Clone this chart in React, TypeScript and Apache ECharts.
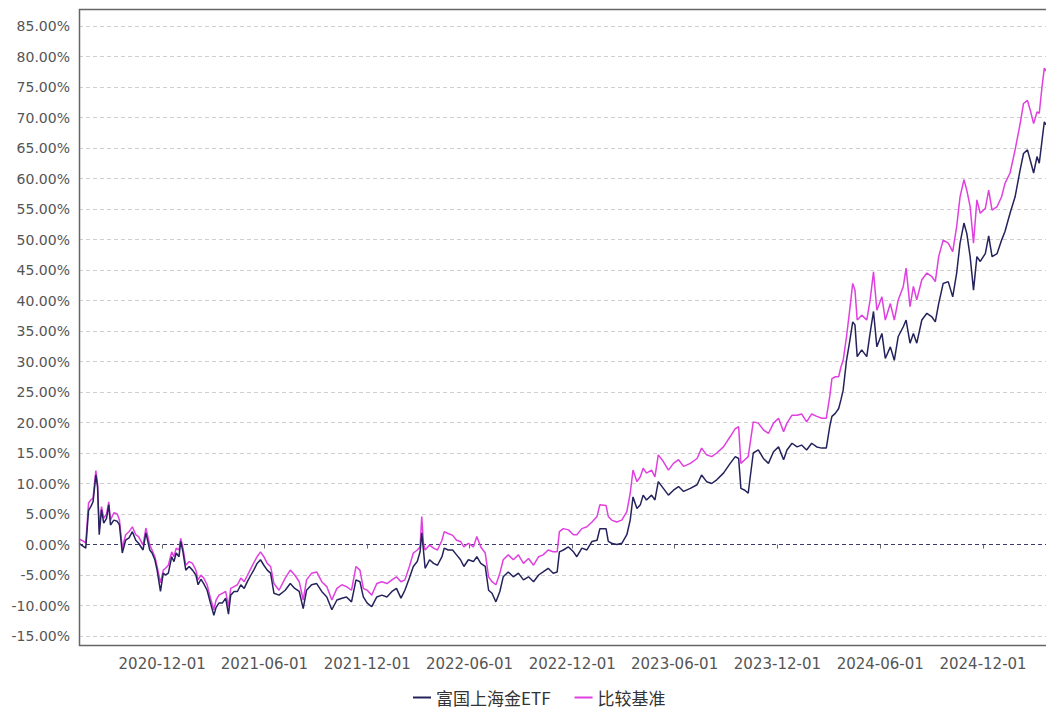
import { useEffect, useRef } from 'react';
import * as echarts from 'echarts';

const dates = [
  '2020-07-06','2020-07-15','2020-07-18','2020-07-23','2020-07-27','2020-07-31','2020-08-05','2020-08-08','2020-08-11','2020-08-15',
  '2020-08-19','2020-08-24','2020-08-28','2020-08-31','2020-09-06','2020-09-12','2020-09-16','2020-09-21','2020-09-27','2020-10-03',
  '2020-10-09','2020-10-15','2020-10-20','2020-10-28','2020-11-02','2020-11-09','2020-11-13','2020-11-18','2020-11-22','2020-11-28',
  '2020-12-03','2020-12-07','2020-12-12','2020-12-18','2020-12-22','2020-12-26','2020-12-31','2021-01-03','2021-01-07','2021-01-12',
  '2021-01-18','2021-01-24','2021-01-30','2021-02-03','2021-02-08','2021-02-13','2021-02-19','2021-02-25','2021-03-03','2021-03-07',
  '2021-03-12','2021-03-18','2021-03-24','2021-03-29','2021-04-02','2021-04-08','2021-04-14','2021-04-20','2021-04-26','2021-05-02',
  '2021-05-08','2021-05-13','2021-05-19','2021-05-25','2021-05-31','2021-06-06','2021-06-12','2021-06-18','2021-06-27',
  '2021-07-08','2021-07-17','2021-07-25','2021-08-02','2021-08-09','2021-08-15','2021-08-24','2021-09-02','2021-09-11','2021-09-20','2021-09-29',
  '2021-10-08','2021-10-17','2021-10-25','2021-11-03','2021-11-11','2021-11-18','2021-11-24','2021-12-01','2021-12-09','2021-12-18',
  '2021-12-27','2022-01-05','2022-01-14','2022-01-22','2022-01-30','2022-02-06','2022-02-14','2022-02-21','2022-02-28','2022-03-05',
  '2022-03-08','2022-03-11','2022-03-14','2022-03-22','2022-03-29','2022-04-05','2022-04-13','2022-04-17','2022-04-24','2022-05-02',
  '2022-05-09','2022-05-16','2022-05-22','2022-05-30','2022-06-08',
  '2022-06-14','2022-06-21','2022-06-29','2022-07-05','2022-07-11','2022-07-18','2022-07-25','2022-07-31','2022-08-09','2022-08-18',
  '2022-08-27','2022-09-05','2022-09-14','2022-09-23','2022-10-02','2022-10-10','2022-10-19','2022-10-28','2022-11-04','2022-11-08',
  '2022-11-15','2022-11-24','2022-12-03','2022-12-09','2022-12-18','2022-12-27','2023-01-05','2023-01-14','2023-01-19','2023-01-30',
  '2023-02-03','2023-02-09','2023-02-18','2023-02-27','2023-03-08','2023-03-14','2023-03-19','2023-03-26','2023-04-01','2023-04-06',
  '2023-04-12','2023-04-21','2023-04-27','2023-05-03','2023-05-12','2023-05-21','2023-05-30','2023-06-08',
  '2023-06-17','2023-06-29','2023-07-11','2023-07-19','2023-07-28','2023-08-06','2023-08-15','2023-08-27','2023-09-08','2023-09-17',
  '2023-09-23','2023-09-27','2023-10-04','2023-10-10','2023-10-19','2023-10-28','2023-11-06','2023-11-15','2023-11-24','2023-12-03',
  '2023-12-12','2023-12-18','2023-12-27','2024-01-05','2024-01-13','2024-01-22','2024-01-31','2024-02-09','2024-02-18','2024-02-26',
  '2024-03-03','2024-03-07','2024-03-13','2024-03-19','2024-03-23','2024-03-27','2024-04-02','2024-04-08','2024-04-13','2024-04-17',
  '2024-04-21','2024-04-29','2024-05-08','2024-05-14','2024-05-20','2024-05-26','2024-06-04','2024-06-10','2024-06-19','2024-06-26',
  '2024-07-03','2024-07-12','2024-07-17','2024-07-24','2024-07-30','2024-08-05','2024-08-14','2024-08-23','2024-09-01','2024-09-07',
  '2024-09-13','2024-09-21','2024-09-30','2024-10-08','2024-10-15','2024-10-21','2024-10-28','2024-11-02','2024-11-08','2024-11-14',
  '2024-11-20','2024-11-26','2024-12-05','2024-12-11','2024-12-17','2024-12-26','2025-01-03','2025-01-09','2025-01-18','2025-01-27',
  '2025-02-05','2025-02-11','2025-02-18','2025-02-23','2025-03-01','2025-03-07','2025-03-11','2025-03-16','2025-03-20','2025-03-23',
];

const fundValues = [
  0.2, -0.4, -0.6, 5.6, 6.2, 7.0, 11.4, 9.5, 1.6, 5.7,
  3.5, 4.3, 6.5, 3.2, 4.0, 3.8, 3.2, -1.4, 0.7, 1.1,
  2.1, 0.7, 0.2, -0.9, 1.9, -0.9, -1.4, -2.5, -4.2, -7.7,
  -4.7, -5.0, -4.7, -2.0, -2.8, -1.4, -2.0, 0.5, -1.2, -4.2,
  -3.6, -4.2, -5.0, -6.6, -5.7, -6.4, -7.5, -9.6, -11.6, -10.3,
  -9.6, -9.6, -8.8, -11.4, -8.3, -7.7, -7.7, -6.6, -7.2, -6.0,
  -5.0, -4.2, -3.1, -2.5, -3.4, -4.2, -4.7, -8.0, -8.3,
  -7.5, -6.4, -7.2, -7.7, -10.5, -7.5, -6.6, -6.4, -7.7, -8.6, -10.7,
  -9.1, -8.8, -8.6, -9.4, -5.8, -6.1, -8.6, -9.6, -10.2, -8.6,
  -8.3, -8.6, -7.7, -7.2, -8.8, -7.5, -5.5, -3.6, -2.8, -1.2,
  1.9, -0.9, -3.9, -2.5, -3.1, -3.4, -2.0, -0.6, -0.9, -0.9,
  -1.7, -2.5, -3.6, -2.5, -2.8,
  -2.0, -3.1, -3.6, -7.5, -8.0, -9.4, -7.7, -5.3, -4.5, -5.3,
  -4.7, -5.8, -5.3, -6.1, -5.0, -4.5, -3.9, -4.7, -4.5, -1.2,
  -0.9, -0.4, -1.2, -2.0, -0.6, -0.9, 0.5, 0.7, 2.6, 2.6,
  0.5, 0.2, 0.0, 0.2, 1.6, 4.0, 7.8, 5.9, 6.5, 8.1,
  7.3, 8.1, 7.3, 10.3, 9.2, 8.1, 8.9, 9.5,
  8.7, 9.2, 9.8, 11.4, 10.3, 10.0, 10.6, 11.7, 13.3, 14.4,
  14.1, 9.2, 8.9, 8.4, 15.0, 15.5, 14.1, 13.3, 15.2, 16.0,
  13.9, 15.5, 16.6, 16.0, 16.3, 15.5, 16.6, 16.0, 15.8, 15.8,
  19.3, 21.0, 21.5, 22.3, 23.7, 25.3, 30.2, 33.5, 36.5, 36.0,
  30.8, 31.9, 30.8, 34.7, 38.2, 32.4, 34.6, 30.5, 32.4, 30.2,
  34.1, 35.7, 36.8, 33.0, 34.6, 33.0, 36.8, 37.9, 37.3, 36.5,
  39.5, 42.8, 43.1, 40.6, 44.5, 49.4, 52.7, 51.0, 47.2, 41.7,
  47.2, 46.4, 47.7, 50.6, 47.2, 47.7, 49.9, 51.3, 54.3, 57.0,
  61.4, 64.1, 64.7, 63.0, 60.9, 63.6, 62.5, 66.3, 69.3, 68.8,
];

const benchValues = [
  0.9, 0.5, 0.2, 6.8, 7.3, 7.6, 12.1, 10.0, 2.5, 6.2,
  4.3, 5.0, 7.0, 4.0, 5.2, 5.0, 4.0, -0.6, 1.6, 2.1,
  2.9, 1.6, 1.3, -0.1, 2.7, -0.1, -0.9, -2.0, -3.6, -6.3,
  -4.2, -3.9, -3.4, -1.2, -2.0, -0.6, -0.9, 1.0, -0.6, -3.4,
  -2.8, -3.1, -4.2, -5.8, -5.0, -5.5, -6.6, -8.8, -10.7, -9.1,
  -8.3, -8.0, -7.7, -10.2, -7.2, -6.9, -6.6, -5.5, -6.1, -5.0,
  -3.9, -3.0, -2.0, -1.2, -2.0, -3.1, -3.6, -6.4, -7.5,
  -5.5, -4.2, -5.0, -6.1, -9.1, -5.8, -4.7, -4.5, -6.1, -6.9, -9.1,
  -7.2, -6.6, -6.9, -7.5, -3.6, -4.2, -7.2, -7.5, -8.3, -6.4,
  -6.1, -6.4, -5.8, -5.3, -6.1, -5.8, -3.6, -1.4, -0.9, -0.4,
  4.6, 0.2, -0.9, -0.1, -0.6, -0.9, 0.7, 2.1, 1.8, 1.5,
  0.7, 0.5, -0.4, 0.2, -0.4,
  1.3, -0.4, -1.4, -5.3, -6.1, -6.6, -4.7, -2.5, -1.7, -2.5,
  -1.7, -3.1, -2.3, -3.4, -2.0, -1.7, -0.9, -1.2, -1.2, 2.1,
  2.6, 2.4, 1.6, 1.6, 2.6, 2.9, 3.7, 4.6, 6.5, 6.4,
  4.6, 4.0, 3.7, 4.0, 5.4, 8.4, 12.2, 10.3, 11.1, 12.5,
  11.7, 12.2, 11.1, 14.7, 13.6, 12.2, 13.3, 13.9,
  12.8, 13.3, 14.1, 15.8, 14.7, 14.4, 15.0, 16.0, 17.7, 19.0,
  19.3, 13.3, 13.9, 14.4, 20.1, 19.9, 18.8, 18.2, 19.9, 20.7,
  18.5, 19.9, 21.2, 21.2, 21.4, 20.1, 21.4, 21.0, 20.7, 20.7,
  24.2, 27.2, 27.5, 27.5, 29.1, 30.2, 34.1, 38.7, 42.8, 41.7,
  36.8, 37.6, 36.8, 40.1, 44.7, 38.4, 40.6, 36.8, 39.5, 36.8,
  40.1, 42.3, 45.3, 39.0, 42.3, 40.1, 43.4, 44.5, 43.9, 43.1,
  47.2, 49.9, 49.4, 48.0, 52.1, 57.0, 59.8, 58.1, 55.4, 49.4,
  56.5, 54.3, 55.1, 58.1, 54.8, 55.4, 57.0, 59.2, 60.9, 64.7,
  69.0, 72.3, 72.8, 71.2, 69.0, 70.9, 70.7, 75.1, 78.1, 77.6,
];

const xTickLabels = [
  '2020-12-01', '2021-06-01', '2021-12-01', '2022-06-01', '2022-12-01',
  '2023-06-01', '2023-12-01', '2024-06-01', '2024-12-01',
];

const seriesNames = ['富国上海金ETF', '比较基准'];
const seriesColors = ['#25235c', '#e040e0'];

const yMin = -15;
const yMax = 85;
const yStep = 5;

function pad(n: number) {
  return n < 10 ? '0' + n : '' + n;
}

function toTs(s: string) {
  const [y, m, d] = s.split('-').map(Number);
  return Date.UTC(y, m - 1, d);
}

function fmtDate(v: number) {
  const d = new Date(v);
  return d.getUTCFullYear() + '-' + pad(d.getUTCMonth() + 1) + '-' + pad(d.getUTCDate());
}

export default function App() {
  const ref = useRef<HTMLDivElement>(null);

  useEffect(() => {
    if (!ref.current) return;
    const chart = echarts.init(ref.current, null, { renderer: 'svg' });

    const tickCount = Math.round((yMax - yMin) / yStep) + 1;
    const splitColors: string[] = [];
    for (let i = 0; i < tickCount; i++) {
      const v = yMin + i * yStep;
      splitColors.push(v === 0 ? '#3b3b6e' : '#cfcfcf');
    }

    const ts = dates.map(toTs);
    const tickTs = xTickLabels.map(toTs);
    const fundData = ts.map((t, i) => [t, fundValues[i]]);
    const benchData = ts.map((t, i) => [t, benchValues[i]]);

    chart.setOption({
      animation: false,
      backgroundColor: '#ffffff',
      grid: { left: 79, right: 0, top: 26, bottom: 73, containLabel: false },
      legend: {
        data: seriesNames,
        left: 408,
        top: 684,
        icon: 'rect',
        itemWidth: 18,
        itemHeight: 2,
        itemGap: 24,
        textStyle: { fontSize: 17, color: '#333', fontFamily: '"Noto Sans CJK SC", sans-serif' },
      },
      graphic: [
        {
          type: 'polyline',
          silent: true,
          z: 100,
          shape: { points: [[1046, 9.5], [79.5, 9.5], [79.5, 645.5], [1046, 645.5]] },
          style: { stroke: '#666666', lineWidth: 1.5, fill: 'none' },
        },
      ],
      xAxis: {
        type: 'value',
        min: ts[0],
        max: ts[ts.length - 1],
        offset: 9,
        axisLine: { show: false },
        axisTick: { show: true, length: 4, lineStyle: { color: '#666' }, customValues: tickTs },
        splitLine: { show: false },
        axisLabel: {
          customValues: tickTs,
          formatter: (v: number) => fmtDate(v),
          fontSize: 15,
          color: '#555',
          margin: 11,
          fontFamily: '"DejaVu Sans", sans-serif',
          hideOverlap: false,
        },
      },
      yAxis: {
        type: 'value',
        min: yMin,
        max: yMax,
        interval: yStep,
        axisLine: { show: false },
        axisTick: { show: false },
        axisLabel: {
          formatter: (v: number) => v.toFixed(2) + '%',
          fontSize: 14,
          color: '#555',
          margin: 9,
          fontFamily: '"DejaVu Sans", sans-serif',
        },
        splitLine: {
          show: true,
          lineStyle: { color: splitColors, type: [4, 3], width: 1 },
        },
      },
      series: [
        {
          name: seriesNames[1],
          type: 'line',
          data: benchData,
          showSymbol: false,
          symbol: 'none',
          lineStyle: { color: seriesColors[1], width: 1.5 },
          itemStyle: { color: seriesColors[1] },
          z: 2,
        },
        {
          name: seriesNames[0],
          type: 'line',
          data: fundData,
          showSymbol: false,
          symbol: 'none',
          lineStyle: { color: seriesColors[0], width: 1.5 },
          itemStyle: { color: seriesColors[0] },
          z: 3,
        },
      ],
    });

    return () => {
      chart.dispose();
    };
  }, []);

  return (
    <div
      ref={ref}
      style={{ position: 'fixed', left: 0, top: 0, width: '1046px', height: '709px', background: '#fff' }}
    />
  );
}
